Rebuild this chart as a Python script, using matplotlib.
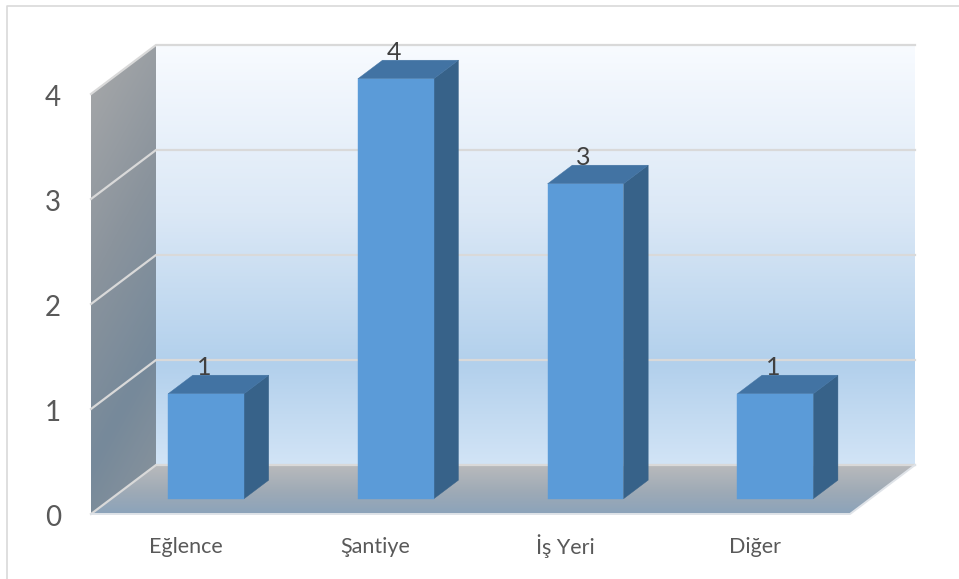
"""3D-style column chart drawn on flat axes with a simple depth projection."""

import matplotlib
matplotlib.use("Agg")
import matplotlib.pyplot as plt
import numpy as np
from matplotlib.colors import LinearSegmentedColormap
from matplotlib.lines import Line2D
from matplotlib.patches import Polygon

plt.rcParams["font.family"] = ["Lato", "DejaVu Sans"]

CATEGORIES = ["Eğlence", "Şantiye", "İş Yeri", "Diğer"]
VALUES = [1, 4, 3, 1]
Y_TICKS = [0, 1, 2, 3, 4]

W, H = 959, 579
# front plane of the chart box, in pixels
LEFT, RIGHT, BOTTOM, TOP = 91, 850, 514, 94
DEPTH_PX_X, DEPTH_PX_Y = 65, 49
DEPTH_X = DEPTH_PX_X / (RIGHT - LEFT) * 4   # full depth in x data units
DEPTH_Y = DEPTH_PX_Y / (BOTTOM - TOP) * 4   # full depth in y data units
BAR_W = 0.40
D_FRONT, D_BACK = 0.31, 0.69

GRID = "#d9d9d9"

fig = plt.figure(figsize=(W / 100, H / 100), dpi=100)
fig.patch.set_facecolor("white")

# chart frame: only top and left edges are inside the picture
fig.add_artist(Line2D([6.5 / W, 6.5 / W, 1], [0, 1 - 5.5 / H, 1 - 5.5 / H], transform=fig.transFigure,
                      color=GRID, linewidth=1.2))

# axes also hold the depth part of the box
ax = fig.add_axes([LEFT / W, 1 - BOTTOM / H, (RIGHT + DEPTH_PX_X - LEFT) / W, (BOTTOM - TOP + DEPTH_PX_Y) / H])
XLIM = (-0.5, 3.5 + DEPTH_X)
YLIM = (0, 4 + DEPTH_Y)
ax.axis("off")


def proj(x, y, d):
    """x/y in data units at depth d (0 = front, 1 = back)."""
    return (x + d * DEPTH_X, y + d * DEPTH_Y)


def gradient_poly(pts, stops, angle_mix=0.0, zorder=1):
    """Fill polygon pts with a vertical gradient (top to bottom colour stops)."""
    pts = np.array(pts)
    x0, x1 = pts[:, 0].min(), pts[:, 0].max()
    y0, y1 = pts[:, 1].min(), pts[:, 1].max()
    cmap = LinearSegmentedColormap.from_list("g", stops)
    xx, yy = np.meshgrid(np.linspace(0, 1, 64), np.linspace(0, 1, 256))
    im = ax.imshow(yy + angle_mix * (xx - 0.5), extent=(x0, x1, y0, y1), origin="upper", aspect="auto",
                   cmap=cmap, vmin=-angle_mix / 2, vmax=1 + angle_mix / 2, zorder=zorder,
                   interpolation="bilinear")
    patch = Polygon(pts, closed=True, transform=ax.transData, facecolor="none", edgecolor="none")
    ax.add_patch(patch)
    im.set_clip_path(patch)


xl, xr = -0.5, 3.5
ymax = Y_TICKS[-1]

# back wall
gradient_poly([proj(xl, 0, 1), proj(xr, 0, 1), proj(xr, ymax, 1), proj(xl, ymax, 1)],
              [(0.0, "#f8fbff"), (0.40, "#dbe8f6"), (0.76, "#b2d0ec"), (1.0, "#d2e4f6")])
# side wall
gradient_poly([proj(xl, 0, 0), proj(xl, 0, 1), proj(xl, ymax, 1), proj(xl, ymax, 0)],
              [(0.0, "#a8a9aa"), (0.40, "#8b949d"), (0.72, "#76899a"), (1.0, "#8a949d")],
              angle_mix=0.25)
# floor
gradient_poly([proj(xl, 0, 0), proj(xr, 0, 0), proj(xr, 0, 1), proj(xl, 0, 1)],
              [(0.0, "#b9babc"), (0.55, "#9eaab6"), (1.0, "#8ba3ba")])
ax.set_xlim(*XLIM)
ax.set_ylim(*YLIM)

# grid lines run along the side wall and the back wall
for t in Y_TICKS:
    xs, ys = zip(proj(xl, t, 0), proj(xl, t, 1), proj(xr, t, 1))
    ax.plot(xs, ys, color=GRID, lw=1.6, zorder=2, clip_on=False, solid_joinstyle="miter")
# floor outline
xs, ys = zip(proj(xl, 0, 0), proj(xr, 0, 0), proj(xr, 0, 1))
ax.plot(xs, ys, color="#dfe3e8", lw=1.4, zorder=2, clip_on=False)

# bars
for i, v in enumerate(VALUES):
    a, b = i - BAR_W / 2, i + BAR_W / 2
    ax.add_patch(Polygon([proj(b, 0, D_FRONT), proj(b, 0, D_BACK), proj(b, v, D_BACK), proj(b, v, D_FRONT)],
                         facecolor="#376289", edgecolor="#376289", lw=0.3, zorder=3, clip_on=False))
    ax.add_patch(Polygon([proj(a, v, D_FRONT), proj(b, v, D_FRONT), proj(b, v, D_BACK), proj(a, v, D_BACK)],
                         facecolor="#4273a3", edgecolor="#4273a3", lw=0.3, zorder=3, clip_on=False))
    ax.add_patch(Polygon([proj(a, 0, D_FRONT), proj(b, 0, D_FRONT), proj(b, v, D_FRONT), proj(a, v, D_FRONT)],
                         facecolor="#5b9bd8", edgecolor="#5b9bd8", lw=0.3, zorder=4, clip_on=False))
    lx, ly = proj(i, v, D_BACK)
    ax.text(lx - 0.14, ly, str(v), ha="center", va="baseline", fontsize=18, color="#404040",
            zorder=5, clip_on=False)

# axis labels
for t in Y_TICKS:
    ax.text(-0.5 - 0.2, t - 0.115, str(t), ha="center", va="baseline", fontsize=20, color="#595959", clip_on=False)
for i, c in enumerate(CATEGORIES):
    ax.text(i, -0.31, c, ha="center", va="center", fontsize=15.5, color="#595959", clip_on=False)

fig.savefig("out.png", dpi=100)
